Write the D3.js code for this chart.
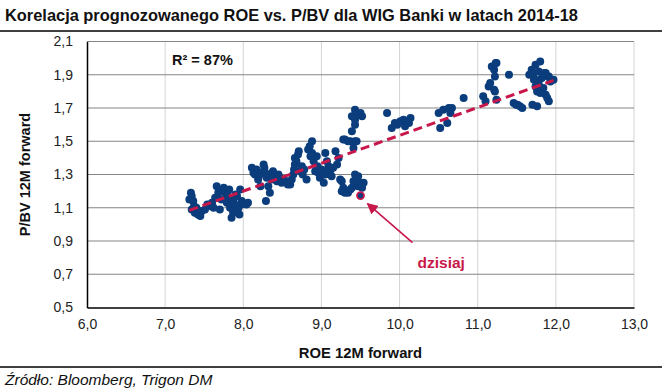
<!DOCTYPE html>
<html><head><meta charset="utf-8">
<script src="https://cdn.jsdelivr.net/npm/d3@7"></script>
<style>body{margin:0;background:#fff}svg{display:block}text{font-family:"Liberation Sans",Arial,sans-serif}</style>
</head><body><svg id="c" width="662" height="392"></svg>
<script>
const title = "Korelacja prognozowanego ROE vs. P/BV dla WIG Banki w latach 2014-18";
const source = "Źródło: Bloomberg, Trigon DM";
const xTitle = "ROE 12M forward";
const yTitle = "P/BV 12M forward";
const r2Label = "R² = 87%";
const todayLabel = "dzisiaj";
const xTicks = [6,7,8,9,10,11,12,13];
const yTicks = [0.5,0.7,0.9,1.1,1.3,1.5,1.7,1.9,2.1];
const roe = [
7.31,7.33,7.34,7.36,7.34,7.37,7.38,7.40,7.42,7.45,7.47,7.51,7.54,7.57,7.60,7.62,7.64,7.66,7.68,7.70,7.72,7.73,7.75,7.77,7.79,7.80,7.82,7.83,7.85,7.86,7.87,7.85,7.88,7.90,7.92,7.94,7.96,7.97,7.98,8.04,8.06,7.95,
8.11,8.13,8.15,8.17,8.19,8.20,8.22,8.24,8.26,8.27,8.28,8.29,8.30,8.32,8.33,8.34,8.36,8.38,8.39,8.41,8.43,8.45,8.47,8.49,8.52,8.54,8.57,8.60,8.62,
8.64,8.65,8.66,8.66,8.68,8.70,8.71,8.73,8.75,8.76,8.78,8.81,8.83,8.85,8.88,8.86,8.88,8.90,8.92,8.94,8.95,8.96,8.98,9.00,9.02,9.03,9.05,9.05,9.07,9.08,9.09,9.11,9.13,9.15,9.18,9.20,9.22,
9.24,9.26,9.28,9.26,9.30,9.34,9.37,9.39,9.41,9.43,9.45,9.47,9.47,9.50,9.52,9.54,
9.28,9.30,9.34,9.37,9.39,9.41,9.43,9.45,9.43,9.39,9.43,9.43,9.46,9.50,9.52,
9.84,9.90,9.94,9.97,10.01,10.05,10.07,10.09,10.12,10.14,
10.50,10.52,10.56,10.61,10.63,10.65,10.67,10.82,
11.07,11.10,11.14,11.16,11.18,11.21,11.21,11.22,11.23,11.24,11.24,11.22,11.40,11.46,11.49,11.51,11.54,11.57,
11.66,11.69,11.71,11.72,11.74,11.74,11.74,11.76,11.76,11.77,11.78,11.78,11.80,11.80,11.82,11.84,11.85,11.87,11.87,11.89,11.90,11.91,11.91,11.93,11.97,11.70
];
const pbv = [
1.15,1.19,1.17,1.14,1.09,1.11,1.07,1.10,1.06,1.05,1.08,1.09,1.12,1.11,1.13,1.10,1.16,1.23,1.19,1.09,1.15,1.20,1.22,1.19,1.13,1.17,1.21,1.10,1.10,1.15,1.07,1.04,1.13,1.18,1.17,1.10,1.21,1.12,1.14,1.12,1.13,1.06,
1.34,1.31,1.30,1.33,1.27,1.29,1.23,1.31,1.36,1.34,1.31,1.14,1.28,1.23,1.30,1.19,1.27,1.32,1.29,1.27,1.26,1.30,1.28,1.25,1.27,1.26,1.24,1.24,1.27,
1.30,1.33,1.36,1.40,1.38,1.42,1.44,1.32,1.35,1.30,1.33,1.27,1.45,1.47,1.50,1.41,1.43,1.38,1.32,1.41,1.35,1.31,1.28,1.33,1.30,1.25,1.43,1.30,1.38,1.32,1.35,1.32,1.29,1.34,1.44,1.36,1.40,
1.27,1.26,1.22,1.20,1.19,1.19,1.21,1.22,1.26,1.30,1.27,1.29,1.23,1.25,1.22,1.25,
1.51,1.51,1.50,1.50,1.56,1.46,1.50,1.50,1.60,1.65,1.63,1.69,1.66,1.67,1.65,
1.67,1.58,1.61,1.60,1.62,1.63,1.59,1.62,1.61,1.64,
1.67,1.58,1.69,1.61,1.70,1.67,1.70,1.76,
1.77,1.74,1.83,1.85,1.95,1.93,1.81,1.89,1.97,1.75,1.97,1.80,1.90,1.73,1.72,1.72,1.71,1.70,
1.90,1.93,1.90,1.87,1.96,1.87,1.83,1.80,1.71,1.84,1.92,1.85,1.98,1.79,1.88,1.82,1.91,1.78,1.91,1.76,1.89,1.74,1.89,1.86,1.87,1.72
];
const todayRoe = 9.50, todayPbv = 1.173;
const trendSlope = 0.1677, trendIntercept = -0.1415;

const svg = d3.select("#c");
const W = 662, H = 392;
const m = {l:87, r:28, t:41.5, b:84.5};
const x = d3.scaleLinear().domain([6,13]).range([m.l, W-m.r]);
const y = d3.scaleLinear().domain([0.5,2.1]).range([H-m.b, m.t]);
const fmt = d => d3.format(".1f")(d).replace(".", ",");
const navy = "#0b3d7d", crimson = "#c8174a";

// title
svg.append("text").attr("x",5).attr("y",21).attr("font-size",16.4).attr("font-weight","bold").attr("fill","#111").text(title);
svg.append("line").attr("x1",0).attr("x2",W).attr("y1",31).attr("y2",31).attr("stroke","#000").attr("stroke-width",1.5);

// grid
const g = svg.append("g");
g.selectAll(".vg").data(xTicks.slice(1)).join("line")
  .attr("x1",d=>x(d)).attr("x2",d=>x(d)).attr("y1",y(2.1)).attr("y2",y(0.5))
  .attr("stroke","#d4d4d4").attr("stroke-width",1);
g.selectAll(".hg").data(yTicks.slice(1)).join("line")
  .attr("x1",x(6)).attr("x2",x(13)).attr("y1",d=>y(d)).attr("y2",d=>y(d))
  .attr("stroke","#858585").attr("stroke-width",1.2);

// axes
const xAxis = svg.append("g").attr("transform",`translate(0,${y(0.5)})`)
  .call(d3.axisBottom(x).tickValues(xTicks).tickFormat(fmt).tickSize(0).tickPadding(12));
const yAxis = svg.append("g").attr("transform",`translate(${x(6)},0)`)
  .call(d3.axisLeft(y).tickValues(yTicks).tickFormat(fmt).tickSize(0).tickPadding(14));
[xAxis,yAxis].forEach(a=>{
  a.select(".domain").attr("stroke","#000").attr("stroke-width",1.5);
  a.selectAll("text").attr("font-size",14).attr("fill","#222").attr("font-family","'Liberation Sans',Arial,sans-serif");
});

svg.append("text").attr("x",(x(6)+x(13))/2).attr("y",358).attr("text-anchor","middle")
  .attr("font-size",14.8).attr("font-weight","bold").attr("fill","#111").text(xTitle);
svg.append("text").attr("transform",`translate(30,${(y(0.5)+y(2.1))/2}) rotate(-90)`).attr("text-anchor","middle")
  .attr("font-size",14.5).attr("font-weight","bold").attr("fill","#111").text(yTitle);

// points
const pts = roe.map((r,i)=>({r, p:pbv[i]}));
svg.append("g").selectAll("circle").data(pts).join("circle")
  .attr("cx",d=>x(d.r)).attr("cy",d=>y(d.p)).attr("r",4).attr("fill",navy);

// trend
const tx = d3.extent(roe);
svg.append("line").attr("x1",x(tx[0])).attr("x2",x(tx[1]))
  .attr("y1",y(trendIntercept+trendSlope*tx[0])).attr("y2",y(trendIntercept+trendSlope*tx[1]))
  .attr("stroke",crimson).attr("stroke-width",3).attr("stroke-dasharray","9,5");

// today
svg.append("circle").attr("cx",x(todayRoe)).attr("cy",y(todayPbv)).attr("r",3.5)
  .attr("fill",navy).attr("stroke",crimson).attr("stroke-width",1.8);

// arrow
const defs = svg.append("defs");
defs.append("marker").attr("id","ah").attr("viewBox","0 0 10 10").attr("refX",9).attr("refY",5)
  .attr("markerWidth",7).attr("markerHeight",7).attr("orient","auto")
  .append("path").attr("d","M0,0L10,5L0,10z").attr("fill",crimson);
svg.append("line").attr("x1",x(todayRoe)+52).attr("y1",y(todayPbv)+47)
  .attr("x2",x(todayRoe)+7).attr("y2",y(todayPbv)+8)
  .attr("stroke",crimson).attr("stroke-width",1.6).attr("marker-end","url(#ah)");
svg.append("text").attr("x",x(todayRoe)+57).attr("y",y(todayPbv)+72)
  .attr("font-size",15.5).attr("font-weight","bold").attr("fill",crimson).text(todayLabel);

svg.append("text").attr("x",172).attr("y",65).attr("font-size",14.5).attr("font-weight","bold").attr("fill","#111").text(r2Label);

// footer
svg.append("line").attr("x1",0).attr("x2",W).attr("y1",367).attr("y2",367).attr("stroke","#000").attr("stroke-width",1.5);
svg.append("text").attr("x",5).attr("y",385).attr("font-size",15.5).attr("font-style","italic").attr("fill","#111").text(source);
</script></body></html>
